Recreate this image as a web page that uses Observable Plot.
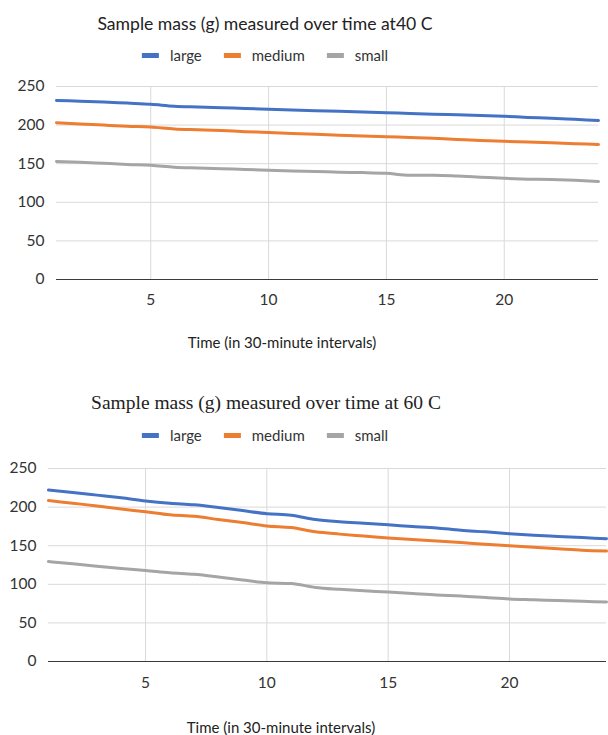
<!DOCTYPE html>
<html><head><meta charset="utf-8">
<script src="https://cdn.jsdelivr.net/npm/d3@7"></script>
<script src="https://cdn.jsdelivr.net/npm/@observablehq/plot@0.6"></script>
<style>
body{margin:0;background:#fff;}
#root{position:relative;width:608px;height:735px;overflow:hidden;font-family:Lato,sans-serif;color:#333;}
.abs{position:absolute;white-space:nowrap;}
.title{font-size:17.6px;color:#222;transform:translate(-50%,-50%);}
.title.serif{font-family:"Liberation Serif",serif;font-size:19.5px;}
.legend{display:flex;align-items:center;transform:translate(-50%,-50%);font-size:15px;color:#333;}
.legend .sw{width:17px;height:5px;margin-right:11px;}
.legend .lab{margin-right:22px;}
.legend .lab:last-child{margin-right:0;}
.xlabel{font-size:15px;color:#222;transform:translate(-50%,-50%);}
svg text{font-family:Lato,sans-serif;}
</style></head><body><div id="root"></div>
<script>
// ---- data ----
const time = [1,2,3,4,5,6,7,8,9,10,11,12,13,14,15,16,17,18,19,20,21,22,23,24];
const seriesNames = ["large","medium","small"];
const seriesColors = ["#4472C4","#ED7D31","#A5A5A5"];
const yTicks = [0,50,100,150,200,250];
const xTicks = [5,10,15,20];

const large40  = [232,231,230,228.5,227,224.5,223.5,222.5,221.5,220.5,219.5,218.5,218,217,216,215,214,213.5,212.5,211.5,210,209,207.5,206];
const medium40 = [203,201.5,200,198.5,197.5,195,194,193,191.5,190.5,189,188,187,186,185,184,183,181.5,180,179,178,177,176,175];
const small40  = [153,152,150.5,149,148,145.5,144.5,143.5,142.5,141.5,140.5,140,139,138.5,137.5,135,135,134,132.5,131,130,129.5,128.5,127];

const large60  = [222,219,215.5,212,208,205,203,199.5,195.5,191.5,189.5,184,181,179,177,175,173,170,168,165.5,163.5,162,160.5,159];
const medium60 = [208.5,205,201.5,197.5,194,190,188,184,180,175.5,173.5,168,165,162.5,160,158,156,154,152,150,148,146,144,143];
const small60  = [129.5,126.5,123.5,120.5,118,115,113,109.5,105.5,102,101,96,93.5,91.5,90,88,86,85,83,81,80,79,78,77];

const title40 = "Sample mass (g) measured over time at40 C";
const title60 = "Sample mass (g) measured over time at 60 C";
const xTitle = "Time (in 30-minute intervals)";

// ---- build ----
const root = document.getElementById("root");
function toRows(arrs){
  const rows=[];
  arrs.forEach((a,i)=>a.forEach((v,j)=>rows.push({t:time[j],v,s:seriesNames[i]})));
  return rows;
}
function addDiv(cls,text,x,y){
  const d=document.createElement("div");
  d.className="abs "+cls; d.textContent=text;
  d.style.left=x+"px"; d.style.top=y+"px";
  root.appendChild(d); return d;
}
function addLegend(x,y){
  const d=document.createElement("div");
  d.className="abs legend"; d.style.left=x+"px"; d.style.top=y+"px";
  seriesNames.forEach((n,i)=>{
    const sw=document.createElement("span"); sw.className="sw"; sw.style.background=seriesColors[i];
    const lb=document.createElement("span"); lb.className="lab"; lb.textContent=n;
    d.appendChild(sw); d.appendChild(lb);
  });
  root.appendChild(d);
}
function makeChart(rows,{top,ml,mr,pad}){
  const svg = Plot.plot({
    width:608, height:233,
    marginTop:10, marginBottom:30, marginLeft:ml, marginRight:mr,
    style:{fontSize:"15.5px",color:"#333",background:"transparent",overflow:"visible"},
    x:{domain:[1,24], ticks:xTicks, tickSize:0, tickPadding:pad, label:null},
    y:{domain:[0,250], ticks:yTicks, tickSize:0, tickPadding:12, label:null},
    color:{domain:seriesNames, range:seriesColors},
    marks:[
      Plot.gridY(yTicks,{stroke:"#d9d9d9",strokeOpacity:1,strokeWidth:1}),
      Plot.gridX(xTicks,{stroke:"#d9d9d9",strokeOpacity:1,strokeWidth:1}),
      Plot.ruleY([0],{stroke:"#3a3a3a",strokeWidth:1}),
      Plot.axisX({ticks:xTicks,tickSize:0,tickPadding:pad,label:null}),
      Plot.axisY({ticks:yTicks,tickSize:0,tickPadding:12,label:null}),
      Plot.line(rows,{x:"t",y:"v",z:"s",stroke:"s",strokeWidth:3,curve:"monotone-x"})
    ]
  });
  svg.style.position="absolute"; svg.style.left="0px"; svg.style.top=top+"px";
  root.appendChild(svg);
}

// chart 1
addDiv("title",title40,265,23);
addLegend(265,55);
makeChart(toRows([large40,medium40,small40]),{top:76,ml:56,mr:10,pad:14});
addDiv("xlabel",xTitle,282,342);

// chart 2
addDiv("title serif",title60,266,403);
addLegend(265,435);
makeChart(toRows([large60,medium60,small60]),{top:458,ml:48,mr:2,pad:15});
addDiv("xlabel",xTitle,281,727);
</script></body></html>
